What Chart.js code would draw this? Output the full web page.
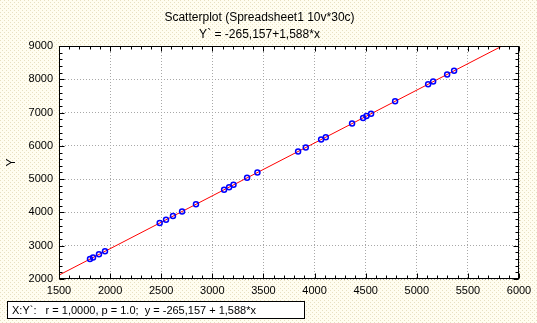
<!DOCTYPE html>
<html>
<head>
<meta charset="utf-8">
<script src="https://cdn.jsdelivr.net/npm/chart.js@4"></script>
<style>
  html, body { margin: 0; padding: 0; background: #fffdf0; }
  #wrap { width: 537px; height: 323px; }
</style>
</head>
<body>
<div id="wrap"><canvas id="c" width="537" height="323"></canvas></div>
<script>
// Chart text
const titleLines = ['Scatterplot (Spreadsheet1 10v*30c)', 'Y` = -265,157+1,588*x'];
const yAxisTitle = 'Y';
const statsText = 'X:Y`:   r = 1,0000, p = 1.0;  y = -265,157 + 1,588*x';

// Observed cases
const xValues = [1803, 1833, 1891, 1950, 2485, 2547, 2615, 2704, 2840, 3115, 3164, 3207, 3340, 3441,
                 3839, 3914, 4064, 4110, 4367, 4475, 4508, 4553, 4788, 5111, 5160, 5297, 5365];
const yValues = [2600, 2645, 2740, 2830, 3680, 3780, 3890, 4030, 4245, 4680, 4760, 4830, 5040, 5200,
                 5830, 5950, 6190, 6260, 6670, 6840, 6895, 6965, 7340, 7850, 7930, 8145, 8255];

// Fitted regression line  Y` = a + b*x
const fitIntercept = -265.157;
const fitSlope = 1.588;

// Axis ranges and tick spacing
const xRange = [1500, 6000];
const yRange = [2000, 9000];
const xMajor = 500, xMinor = 100;
const yMajor = 1000, yMinor = 200;

const FONT = "'Liberation Sans', Arial, sans-serif";

const points = xValues.map((x, i) => ({ x, y: yValues[i] }));
const fitLine = xRange.map(x => ({ x, y: fitIntercept + fitSlope * x }));

// Speckled cream backdrop with a white plotting area
const backdrop = {
  id: 'backdrop',
  beforeDraw(chart) {
    const { ctx, chartArea: a, width, height } = chart;
    const tile = document.createElement('canvas');
    tile.width = 4; tile.height = 4;
    const t = tile.getContext('2d');
    t.fillStyle = '#fffdf0'; t.fillRect(0, 0, 4, 4);
    t.fillStyle = '#e8e0c2'; t.fillRect(0, 0, 1, 1); t.fillRect(2, 2, 1, 1);
    ctx.save();
    ctx.fillStyle = ctx.createPattern(tile, 'repeat');
    ctx.fillRect(0, 0, width, height);
    ctx.fillStyle = '#ffffff';
    ctx.fillRect(a.left, a.top, a.right - a.left, a.bottom - a.top);
    ctx.restore();
  }
};

// Black frame with inward major/minor tick marks on all four sides
const frame = {
  id: 'frame',
  afterDatasetsDraw(chart) {
    const { ctx, chartArea: a, scales: { x, y } } = chart;
    const L = Math.round(a.left) + 0.5, R = Math.round(a.right) - 0.5;
    const T = Math.round(a.top) + 0.5, B = Math.round(a.bottom) - 0.5;
    ctx.save();
    ctx.strokeStyle = '#000';
    ctx.lineWidth = 1;
    ctx.beginPath();
    for (let v = xRange[0]; v <= xRange[1]; v += xMinor) {
      const px = Math.round(x.getPixelForValue(v)) + 0.5;
      const len = v % xMajor === 0 ? 5 : 3;
      ctx.moveTo(px, B); ctx.lineTo(px, B - len);
      ctx.moveTo(px, T); ctx.lineTo(px, T + len);
    }
    for (let v = yRange[0]; v <= yRange[1]; v += yMinor) {
      const py = Math.round(y.getPixelForValue(v)) + 0.5;
      const len = v % yMajor === 0 ? 5 : 3;
      ctx.moveTo(L, py); ctx.lineTo(L + len, py);
      ctx.moveTo(R, py); ctx.lineTo(R - len, py);
    }
    ctx.stroke();
    ctx.strokeRect(L, T, R - L, B - T);
    ctx.restore();
  }
};

// Correlation summary box under the plot
const statsBox = {
  id: 'statsBox',
  afterDraw(chart) {
    const { ctx } = chart;
    ctx.save();
    ctx.fillStyle = '#ffffff';
    ctx.fillRect(7, 301, 298, 18);
    ctx.strokeStyle = '#000';
    ctx.lineWidth = 1;
    ctx.strokeRect(7.5, 301.5, 297, 17);
    ctx.fillStyle = '#000';
    ctx.font = '11px ' + FONT;
    ctx.textBaseline = 'middle';
    ctx.textAlign = 'left';
    ctx.fillText(statsText, 12, 310.5);
    ctx.restore();
  }
};

new Chart(document.getElementById('c'), {
  type: 'scatter',
  data: {
    datasets: [
      {
        type: 'line',
        data: fitLine,
        borderColor: '#ff0000',
        borderWidth: 1,
        pointRadius: 0,
        fill: false,
        order: 2
      },
      {
        data: points,
        pointStyle: 'circle',
        pointRadius: 2.5,
        pointBorderWidth: 1.5,
        pointBorderColor: '#0000ff',
        pointBackgroundColor: 'rgba(0,0,0,0)',
        order: 1
      }
    ]
  },
  options: {
    responsive: false,
    animation: false,
    devicePixelRatio: 1,
    layout: { padding: { left: 0, right: 18, top: 0, bottom: 22 } },
    plugins: {
      legend: { display: false },
      tooltip: { enabled: false },
      title: {
        display: true,
        text: titleLines,
        color: '#000',
        font: { family: FONT, size: 12, weight: 'normal', lineHeight: 17 / 12 },
        padding: { top: 9, bottom: 3 }
      }
    },
    scales: {
      x: {
        type: 'linear',
        min: xRange[0], max: xRange[1],
        afterFit(scale) { scale.height = 22; },
        ticks: {
          stepSize: xMajor,
          color: '#000',
          padding: 5,
          font: { family: FONT, size: 11 },
          maxRotation: 0,
          callback: v => String(v)
        },
        grid: { color: '#a8a8a8', lineWidth: 1, drawTicks: false },
        border: { display: false, dash: [1, 2] }
      },
      y: {
        type: 'linear',
        min: yRange[0], max: yRange[1],
        afterFit(scale) { scale.width = 59; },
        ticks: {
          stepSize: yMajor,
          color: '#000',
          padding: 6,
          font: { family: FONT, size: 11 },
          callback: v => String(v)
        },
        grid: { color: '#a8a8a8', lineWidth: 1, drawTicks: false },
        border: { display: false, dash: [1, 2] },
        title: {
          display: true,
          text: yAxisTitle,
          color: '#000',
          font: { family: FONT, size: 12 },
          padding: { top: 4, bottom: 0 }
        }
      }
    }
  },
  plugins: [backdrop, frame, statsBox]
});
</script>
</body>
</html>
